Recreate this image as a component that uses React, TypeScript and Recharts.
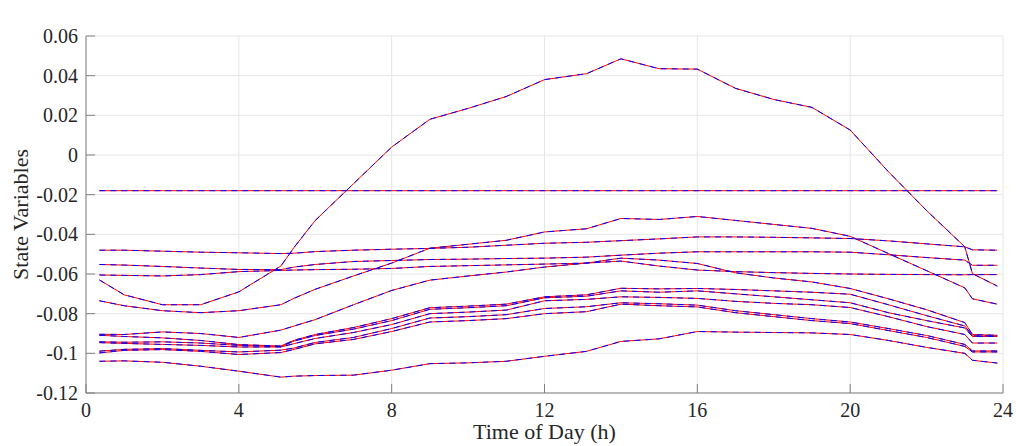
import React from 'react';
import { LineChart, Line, XAxis, YAxis, CartesianGrid, Label } from 'recharts';

// sample times (h)
const HOURS = [0.35, 1, 2, 3, 4, 5.1, 5.45, 6, 7, 8, 9, 10, 11, 12, 13.1, 14, 15, 16, 17, 18, 19, 20, 21, 22, 23, 23.2, 23.85];

const FLAT = [-0.018, -0.018, -0.018, -0.018, -0.018, -0.018, -0.018, -0.018, -0.018, -0.018, -0.018, -0.018, -0.018, -0.018, -0.018, -0.018, -0.018, -0.018, -0.018, -0.018, -0.018, -0.018, -0.018, -0.018, -0.018, -0.018, -0.018];
const PEAK = [-0.063, -0.0705, -0.0755, -0.0755, -0.069, -0.056, -0.0465, -0.033, -0.0145, 0.004, 0.018, 0.0235, 0.0295, 0.038, 0.041, 0.0485, 0.0435, 0.0433, 0.0336, 0.028, 0.024, 0.0126, -0.0084, -0.028, -0.0463, -0.0598, -0.0661];
const S_A = [-0.048, -0.048, -0.0485, -0.049, -0.0493, -0.0497, -0.0495, -0.0487, -0.048, -0.0475, -0.0471, -0.0465, -0.0455, -0.0445, -0.044, -0.0432, -0.0423, -0.0413, -0.0413, -0.0415, -0.0418, -0.0421, -0.0433, -0.0448, -0.0463, -0.0478, -0.048];
const S_B = [-0.0552, -0.0555, -0.0562, -0.057, -0.0577, -0.0578, -0.0565, -0.0552, -0.0537, -0.0532, -0.0527, -0.0525, -0.0522, -0.052, -0.0515, -0.0505, -0.0495, -0.0488, -0.0488, -0.0488, -0.0488, -0.049, -0.0503, -0.0517, -0.053, -0.0556, -0.0556];
const S_C = [-0.0605, -0.0607, -0.061, -0.0603, -0.0588, -0.0582, -0.058, -0.0578, -0.0576, -0.0572, -0.0562, -0.0558, -0.0554, -0.055, -0.0545, -0.0535, -0.056, -0.058, -0.0588, -0.0593, -0.0597, -0.06, -0.0602, -0.0603, -0.0604, -0.0603, -0.0603];
const S_D = [-0.0735, -0.076, -0.0785, -0.0795, -0.0785, -0.0755, -0.0722, -0.0677, -0.061, -0.0545, -0.047, -0.045, -0.043, -0.0388, -0.0372, -0.032, -0.0325, -0.031, -0.033, -0.035, -0.037, -0.041, -0.0497, -0.0583, -0.067, -0.0725, -0.0752];
const S_E1 = [-0.0904, -0.0905, -0.0892, -0.09, -0.092, -0.0883, -0.0862, -0.083, -0.0755, -0.0683, -0.0631, -0.061, -0.059, -0.0565, -0.0545, -0.052, -0.053, -0.0547, -0.0594, -0.062, -0.064, -0.0673, -0.0725, -0.078, -0.0845, -0.0905, -0.0909];
const S_E2 = [-0.0909, -0.0915, -0.0922, -0.0935, -0.0956, -0.0963, -0.0934, -0.0905, -0.087, -0.0825, -0.077, -0.0762, -0.0752, -0.0715, -0.0705, -0.0672, -0.0675, -0.0673, -0.0678, -0.0685, -0.0692, -0.0702, -0.0755, -0.081, -0.0862, -0.0912, -0.0912];
const S_E3 = [-0.0942, -0.0944, -0.0942, -0.0948, -0.096, -0.0966, -0.0938, -0.091, -0.0878, -0.0835, -0.0778, -0.077, -0.076, -0.072, -0.0712, -0.0685, -0.0692, -0.0685, -0.07, -0.0715, -0.073, -0.0745, -0.0795, -0.0835, -0.0872, -0.0915, -0.0915];
const S_E4 = [-0.0946, -0.095, -0.0955, -0.096, -0.0968, -0.0968, -0.0951, -0.0925, -0.0895, -0.0855, -0.08, -0.0792, -0.0782, -0.0735, -0.0728, -0.0715, -0.0718, -0.0723, -0.0738, -0.0748, -0.0755, -0.0769, -0.0815, -0.0865, -0.0905, -0.0948, -0.0948];
const S_E5 = [-0.0989, -0.098, -0.0976, -0.0985, -0.0993, -0.0984, -0.0973, -0.0945, -0.092, -0.0875, -0.0822, -0.0815, -0.0805, -0.0774, -0.0765, -0.0745, -0.075, -0.0757, -0.0785, -0.0805, -0.0825, -0.0842, -0.0875, -0.091, -0.0955, -0.0988, -0.0988];
const S_E6 = [-0.0998, -0.0985, -0.0981, -0.099, -0.1006, -0.0996, -0.098, -0.0952, -0.093, -0.089, -0.0842, -0.0835, -0.0825, -0.08, -0.079, -0.0752, -0.076, -0.0766, -0.0795, -0.0815, -0.0835, -0.085, -0.0885, -0.092, -0.0965, -0.0993, -0.0993];
const S_LOW = [-0.104, -0.1038, -0.1045, -0.1065, -0.109, -0.112, -0.1115, -0.1112, -0.111, -0.1085, -0.1052, -0.1048, -0.104, -0.1015, -0.099, -0.094, -0.0927, -0.089, -0.0893, -0.0895, -0.0897, -0.0905, -0.0935, -0.097, -0.1, -0.1035, -0.1049];

const SERIES = [FLAT, PEAK, S_A, S_B, S_C, S_D, S_E1, S_E2, S_E3, S_E4, S_E5, S_E6, S_LOW];

const X_TICKS = [0, 4, 8, 12, 16, 20, 24];
const Y_TICKS = [-0.12, -0.1, -0.08, -0.06, -0.04, -0.02, 0, 0.02, 0.04, 0.06];

const rows = HOURS.map((h, i) => {
  const r: Record<string, number> = { h };
  SERIES.forEach((s, k) => { r['s' + k] = s[i]; });
  return r;
});

const FONT = '"Liberation Serif", "Times New Roman", serif';
const AXIS = '#808080';
const TXT = '#262626';
const TICK_LEN = 9;

const fmtY = (v: number) => String(parseFloat(v.toFixed(2)));

const BottomTick = (props: any) => {
  const { x, y, payload } = props;
  return (
    <g>
      <line x1={x} y1={y} x2={x} y2={y - TICK_LEN} stroke={AXIS} />
      <text x={x} y={y + 24} textAnchor="middle" fill={TXT} fontSize={20} fontFamily={FONT}>{payload.value}</text>
    </g>
  );
};

const TopTick = (props: any) => {
  const { x, y } = props;
  return <line x1={x} y1={y} x2={x} y2={y + TICK_LEN} stroke={AXIS} />;
};

const LeftTick = (props: any) => {
  const { x, y, payload } = props;
  return (
    <g>
      <line x1={x} y1={y} x2={x + TICK_LEN} y2={y} stroke={AXIS} />
      <text x={x - 8} y={y + 7} textAnchor="end" fill={TXT} fontSize={20} fontFamily={FONT}>{fmtY(payload.value)}</text>
    </g>
  );
};

const RightTick = (props: any) => {
  const { x, y } = props;
  return <line x1={x} y1={y} x2={x - TICK_LEN} y2={y} stroke={AXIS} />;
};

export default function App() {
  return (
    <div style={{ position: 'absolute', left: 0, top: 0, width: 1016, height: 446, background: '#fff' }}>
      <LineChart width={1016} height={446} data={rows} margin={{ top: 36, right: 13, bottom: 13, left: 26 }}>
        <CartesianGrid stroke="#e6e6e6" />
        <XAxis
          dataKey="h" type="number" domain={[0, 24]} ticks={X_TICKS} height={40}
          axisLine={{ stroke: AXIS }} tickLine={false} tickSize={0} tickMargin={0} tick={<BottomTick />}
        >
          <Label
            content={(p: any) => {
              const vb = p.viewBox;
              return (
                <text x={vb.x + vb.width / 2} y={vb.y + 46} textAnchor="middle" fill={TXT} fontSize={22} fontFamily={FONT}>
                  Time of Day (h)
                </text>
              );
            }}
          />
        </XAxis>
        <XAxis
          xAxisId="top" orientation="top" dataKey="h" type="number" domain={[0, 24]} ticks={X_TICKS} height={0}
          axisLine={{ stroke: AXIS }} tickLine={false} tickSize={0} tickMargin={0} tick={<TopTick />}
        >
          <Label
            content={(p: any) => {
              const vb = p.viewBox;
              return (
                <text x={vb.x + vb.width / 2} y={28} textAnchor="middle" fill="#000" fontSize={22} fontWeight="bold" fontFamily={FONT}>
                  State Variables Prediction
                </text>
              );
            }}
          />
        </XAxis>
        <YAxis
          type="number" domain={[-0.12, 0.06]} ticks={Y_TICKS} width={60} allowDataOverflow
          axisLine={{ stroke: AXIS }} tickLine={false} tickSize={0} tickMargin={0} tick={<LeftTick />}
        >
          <Label
            content={(p: any) => {
              const vb = p.viewBox;
              const cy = vb.y + vb.height / 2;
              return (
                <text x={2} y={cy} transform={`rotate(-90, 2, ${cy})`} dy={26} textAnchor="middle" fill={TXT} fontSize={22} fontFamily={FONT}>
                  State Variables
                </text>
              );
            }}
          />
        </YAxis>
        <YAxis
          yAxisId="right" orientation="right" type="number" domain={[-0.12, 0.06]} ticks={Y_TICKS} width={0}
          axisLine={{ stroke: AXIS }} tickLine={false} tickSize={0} tickMargin={0} tick={<RightTick />}
        />
        {SERIES.map((_, k) => (
          <Line key={'r' + k} type="linear" dataKey={'s' + k} stroke="#ff0000" strokeWidth={1} dot={false} isAnimationActive={false} />
        ))}
        {SERIES.map((_, k) => (
          <Line key={'b' + k} type="linear" dataKey={'s' + k} stroke="#0000ff" strokeWidth={1} strokeDasharray="6 5" dot={false} isAnimationActive={false} />
        ))}
      </LineChart>
    </div>
  );
}
